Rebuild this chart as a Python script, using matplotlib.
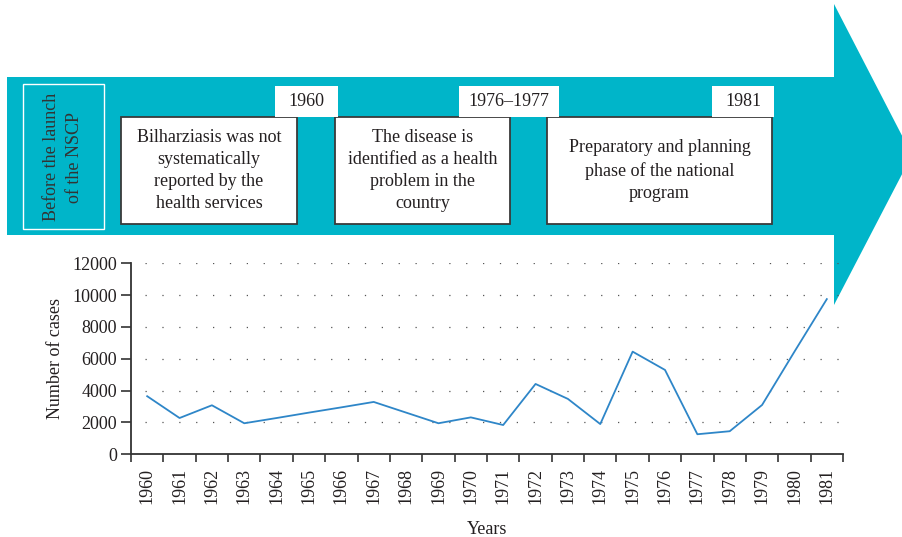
import matplotlib
matplotlib.use("Agg")
import matplotlib.pyplot as plt
from matplotlib.patches import Rectangle, Polygon
from matplotlib.ticker import FixedLocator, NullFormatter, FixedFormatter

years = [str(y) for y in range(1960, 1982)]
cases = [3650, 2280, 3080, 1950, 2280, 2620, 2950, 3290, 2620, 1950, 2320,
         1840, 4420, 3480, 1900, 6450, 5300, 1260, 1450, 3100, 6450, 9750]
yticks = [0, 2000, 4000, 6000, 8000, 10000, 12000]

box_texts = ["Bilharziasis was not\nsystematically\nreported by the\nhealth services",
             "The disease is\nidentified as a health\nproblem in the\ncountry",
             "Preparatory and planning\nphase of the national\nprogram"]
date_labels = ["1960", "1976\u20131977", "1981"]
side_label = "Before the launch\nof the NSCP"

W, H = 903, 537
plt.rcParams['font.family'] = ['Liberation Serif', 'DejaVu Serif']
fig = plt.figure(figsize=(W / 100, H / 100), dpi=100)

def fx(x):
    return x / W

def fy(y):
    return 1 - y / H

TEAL = "#00B5C9"
TXT = "#231f20"
FS = 13

# Banner arrow
fig.patches.append(Rectangle((fx(7), fy(235)), fx(834) - fx(7), fy(77) - fy(235),
                             transform=fig.transFigure, facecolor=TEAL, edgecolor='none', zorder=0))
fig.patches.append(Polygon([(fx(834), fy(4)), (fx(912), fy(155)), (fx(834), fy(305))],
                           closed=True, transform=fig.transFigure, facecolor=TEAL,
                           edgecolor='none', zorder=0))
# side label frame
fig.patches.append(Rectangle((fx(23), fy(229)), fx(104) - fx(23), fy(84) - fy(229),
                             transform=fig.transFigure, facecolor='none', edgecolor='white',
                             linewidth=1.0, zorder=1))
fig.text(fx(63), fy(157), side_label, rotation=90, ha='center', va='center',
         fontsize=FS, color='#333333', linespacing=1.45)

boxes = [(121, 297), (335, 510), (547, 772)]
date_boxes = [(275, 338), (459, 559), (712, 774)]
for (x0, x1), txt in zip(boxes, box_texts):
    fig.patches.append(Rectangle((fx(x0), fy(224)), fx(x1) - fx(x0), fy(117) - fy(224),
                                 transform=fig.transFigure, facecolor='white',
                                 edgecolor='#3a3a3a', linewidth=1.3, zorder=1))
for (x0, x1), lab in zip(date_boxes, date_labels):
    fig.patches.append(Rectangle((fx(x0), fy(117)), fx(x1) - fx(x0), fy(86) - fy(117),
                                 transform=fig.transFigure, facecolor='white',
                                 edgecolor='none', zorder=1))
    fig.text(fx((x0 + x1) / 2), fy(101.5), lab, ha='center', va='center',
             fontsize=FS, color=TXT, zorder=2)
fig.text(fx(209), fy(170.5), box_texts[0], ha='center', va='center', fontsize=FS,
         color=TXT, linespacing=1.38, zorder=2)
fig.text(fx(422.5), fy(170.5), box_texts[1], ha='center', va='center', fontsize=FS,
         color=TXT, linespacing=1.38, zorder=2)
fig.text(fx(659.5), fy(170.5), box_texts[2], ha='center', va='center', fontsize=FS,
         color=TXT, linespacing=1.38, zorder=2)

# Chart
ax = fig.add_axes([fx(131), fy(454.3), fx(843) - fx(131), fy(263.3) - fy(454.3)], zorder=0.5)
ax.patch.set_alpha(0)
n = len(years)
xs = [i + 0.5 for i in range(n)]
ax.plot(xs, cases, color='#2E86C8', linewidth=1.3, zorder=3)
ax.set_xlim(0, n)
ax.set_ylim(0, 12000)
ax.set_yticks(yticks)
ax.set_yticklabels([str(v) for v in yticks])
ax.xaxis.set_major_locator(FixedLocator(list(range(n + 1))))
ax.xaxis.set_major_formatter(NullFormatter())
ax.xaxis.set_minor_locator(FixedLocator(xs))
ax.xaxis.set_minor_formatter(FixedFormatter(years))
ax.tick_params(axis='x', which='minor', length=0, rotation=90, labelsize=FS,
               labelcolor=TXT, pad=10)
ax.tick_params(axis='x', which='major', length=6, width=1.2, color='#333333', direction='out')
ax.tick_params(axis='y', length=7, width=1.2, color='#333333', labelsize=FS,
               labelcolor=TXT, pad=3)
for s in ['top', 'right']:
    ax.spines[s].set_visible(False)
for s in ['left', 'bottom']:
    ax.spines[s].set_linewidth(1.3)
    ax.spines[s].set_color('#333333')
for v in yticks[1:]:
    ax.axhline(v, color='#555555', linewidth=0.9, linestyle=(0, (1, 12.5)), zorder=1,
               xmin=0.02, xmax=0.995)
ax.set_ylabel("Number of cases", fontsize=13, color=TXT, labelpad=6)
ax.set_xlabel("Years", fontsize=13, color=TXT, labelpad=12)

fig.savefig("out.png", dpi=100)
